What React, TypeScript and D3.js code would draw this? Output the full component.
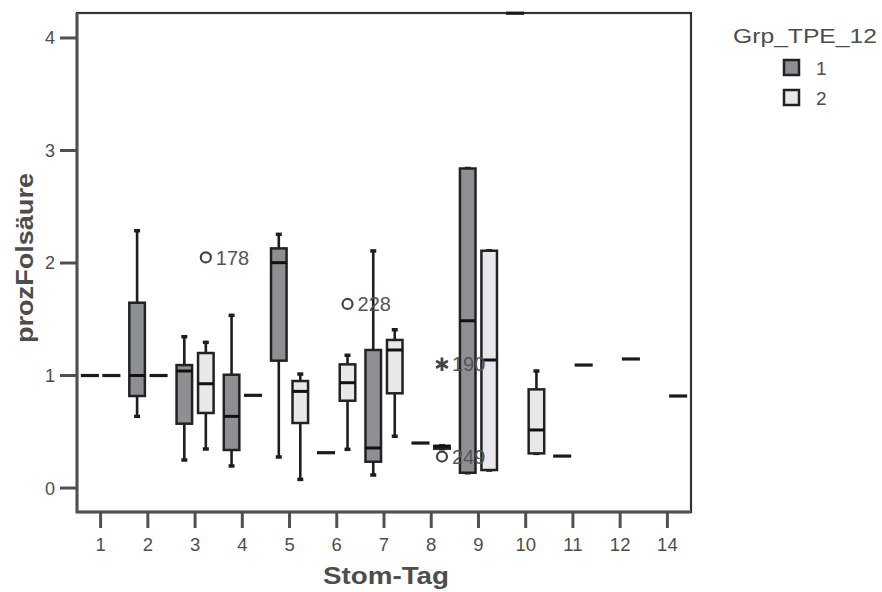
import React from "react";
import * as d3 from "d3";

const categories = ["1", "2", "3", "4", "5", "6", "7", "8", "9", "10", "11", "12", "14"];
const groupKeys = ["1", "2"];
const groupFills = ["#8e8f92", "#e8e8ea"];
const yTicks = [0, 1, 2, 3, 4];

// Group 1 (dark) box statistics per category (null = no data)
const g1Low = [1, 0.637, 0.249, 0.196, 0.276, 0.314, 0.116, 0.4, 0.136, 4.22, 0.284, null, null];
const g1Q1 = [1, 0.818, 0.572, 0.338, 1.132, 0.314, 0.234, 0.4, 0.136, 4.22, 0.284, null, null];
const g1Median = [1, 1.0, 1.04, 0.637, 2.003, 0.314, 0.356, 0.4, 1.487, 4.22, 0.284, null, null];
const g1Q3 = [1, 1.647, 1.093, 1.007, 2.13, 0.314, 1.227, 0.4, 2.84, 4.22, 0.284, null, null];
const g1High = [1, 2.287, 1.345, 1.535, 2.255, 0.314, 2.107, 0.4, 2.84, 4.22, 0.284, null, null];

// Group 2 (light) box statistics per category
const g2Low = [1, 1, 0.347, 0.824, 0.077, 0.344, 0.46, 0.35, 0.16, 0.308, 1.093, 1.147, 0.818];
const g2Q1 = [1, 1, 0.667, 0.824, 0.578, 0.776, 0.842, 0.35, 0.16, 0.308, 1.093, 1.147, 0.818];
const g2Median = [1, 1, 0.927, 0.824, 0.859, 0.936, 1.227, 0.37, 1.138, 0.516, 1.093, 1.147, 0.818];
const g2Q3 = [1, 1, 1.2, 0.824, 0.951, 1.099, 1.316, 0.375, 2.109, 0.877, 1.093, 1.147, 0.818];
const g2High = [1, 1, 1.295, 0.824, 1.013, 1.18, 1.407, 0.375, 2.109, 1.04, 1.093, 1.147, 0.818];

const outlierCats = ["3", "6", "8", "8"];
const outlierGroups = ["2", "2", "2", "2"];
const outlierValues = [2.05, 1.636, 1.1, 0.28];
const outlierLabels = ["178", "228", "190", "249"];
const outlierKinds = ["circle", "circle", "star", "circle"];

const FONT = "'Liberation Sans', Arial, sans-serif";
const TEXT = "#4d4d4d";

export default function App() {
  const left = 77, right = 691, top = 13, bottom = 512;
  const x = d3.scaleBand<string>().domain(categories).range([left, right]).padding(0);
  const sub = d3.scaleBand<string>().domain(groupKeys).range([-21.5, 21.5]).paddingInner(0.16).paddingOuter(0.08);
  const y = d3.scaleLinear().domain([-0.213, 4.222]).range([bottom, top]);
  const bw = sub.bandwidth();
  const stats = [
    [g1Low, g1Q1, g1Median, g1Q3, g1High],
    [g2Low, g2Q1, g2Median, g2Q3, g2High],
  ];
  const cx = (c: string, g: string) => (x(c) as number) + x.bandwidth() / 2 + (sub(g) as number) + bw / 2;
  const star = d3.symbol().type(d3.symbolAsterisk).size(130)();

  const boxes: React.ReactNode[] = [];
  categories.forEach((c, i) => {
    groupKeys.forEach((g, gi) => {
      const [lo, q1, md, q3, hi] = stats[gi].map((a) => a[i]);
      if (lo == null) return;
      const xc = cx(c, g);
      const key = `${c}-${g}`;
      if (q1 === q3 && lo === hi) {
        boxes.push(
          <line key={key} x1={xc - bw / 2} x2={xc + bw / 2} y1={y(md as number)} y2={y(md as number)} stroke="#1a1a1a" strokeWidth={3.2} />
        );
        return;
      }
      boxes.push(
        <g key={key}>
          <line x1={xc} x2={xc} y1={y(hi as number)} y2={y(q3 as number)} stroke="#1e1e1e" strokeWidth={2.6} />
          <line x1={xc} x2={xc} y1={y(q1 as number)} y2={y(lo as number)} stroke="#1e1e1e" strokeWidth={2.6} />
          <line x1={xc - 3} x2={xc + 3} y1={y(hi as number)} y2={y(hi as number)} stroke="#1e1e1e" strokeWidth={3.5} />
          <line x1={xc - 3} x2={xc + 3} y1={y(lo as number)} y2={y(lo as number)} stroke="#1e1e1e" strokeWidth={3.5} />
          <rect
            x={xc - bw / 2 + 1.25}
            width={bw - 2.5}
            y={y(q3 as number)}
            height={Math.max(0.5, y(q1 as number) - y(q3 as number))}
            fill={groupFills[gi]}
            stroke="#222"
            strokeWidth={2.5}
          />
          <line x1={xc - bw / 2 + 1.25} x2={xc + bw / 2 - 1.25} y1={y(md as number)} y2={y(md as number)} stroke="#111" strokeWidth={3} />
        </g>
      );
    });
  });

  return (
    <svg width={882} height={592} style={{ display: "block", position: "absolute", left: 0, top: 0, background: "#fff" }}>
      <rect x={0} y={0} width={882} height={592} fill="#fff" />
      {/* frame */}
      <rect x={left} y={top} width={right - left} height={bottom - top} fill="none" stroke="#333" strokeWidth={2.2} />
      <line x1={left} x2={left} y1={top} y2={bottom + 1} stroke="#505050" strokeWidth={3} />
      <line x1={left - 1} x2={right} y1={bottom} y2={bottom} stroke="#505050" strokeWidth={3} />
      {/* y ticks */}
      {yTicks.map((t) => (
        <g key={`yt${t}`}>
          <line x1={60} x2={left} y1={y(t)} y2={y(t)} stroke="#505050" strokeWidth={3} />
          <text x={55} y={y(t)} dy="0.36em" textAnchor="end" fontFamily={FONT} fontSize={18} fill={TEXT}>
            {t}
          </text>
        </g>
      ))}
      {/* x ticks */}
      {categories.map((c) => {
        const xc = (x(c) as number) + x.bandwidth() / 2;
        return (
          <g key={`xt${c}`}>
            <line x1={xc} x2={xc} y1={bottom} y2={bottom + 16} stroke="#505050" strokeWidth={3} />
            <text x={xc} y={551} textAnchor="middle" fontFamily={FONT} fontSize={18.5} fill={TEXT}>
              {c}
            </text>
          </g>
        );
      })}
      {boxes}
      {/* outliers */}
      {outlierValues.map((v, i) => {
        const xc = cx(outlierCats[i], outlierGroups[i]);
        const yc = y(v);
        return (
          <g key={`o${i}`}>
            {outlierKinds[i] === "circle" ? (
              <circle cx={xc} cy={yc} r={5} fill="none" stroke="#444" strokeWidth={2.2} />
            ) : (
              <path d={star as string} transform={`translate(${xc},${yc})`} fill="none" stroke="#444" strokeWidth={2.8} />
            )}
            <text x={xc + 10} y={yc} dy="0.36em" fontFamily={FONT} fontSize={20} fill="#555">
              {outlierLabels[i]}
            </text>
          </g>
        );
      })}
      {/* axis titles */}
      <text x={386} y={584} textAnchor="middle" fontFamily={FONT} fontSize={23} fontWeight="bold" fill={TEXT} textLength={126} lengthAdjust="spacingAndGlyphs">
        Stom-Tag
      </text>
      <text
        transform={`translate(33,258) rotate(-90)`}
        textAnchor="middle"
        fontFamily={FONT}
        fontSize={23}
        fontWeight="bold"
        fill={TEXT}
        textLength={170}
        lengthAdjust="spacingAndGlyphs"
      >
        prozFolsäure
      </text>
      {/* legend */}
      <text x={733} y={43} fontFamily={FONT} fontSize={20} fill={TEXT} textLength={144} lengthAdjust="spacingAndGlyphs">
        Grp_TPE_12
      </text>
      {groupKeys.map((g, i) => (
        <g key={`lg${g}`}>
          <rect x={784} y={60 + i * 30} width={15} height={15} fill={groupFills[i]} stroke="#222" strokeWidth={2.5} />
          <text x={816} y={75 + i * 30} fontFamily={FONT} fontSize={19} fill={TEXT}>
            {g}
          </text>
        </g>
      ))}
    </svg>
  );
}
